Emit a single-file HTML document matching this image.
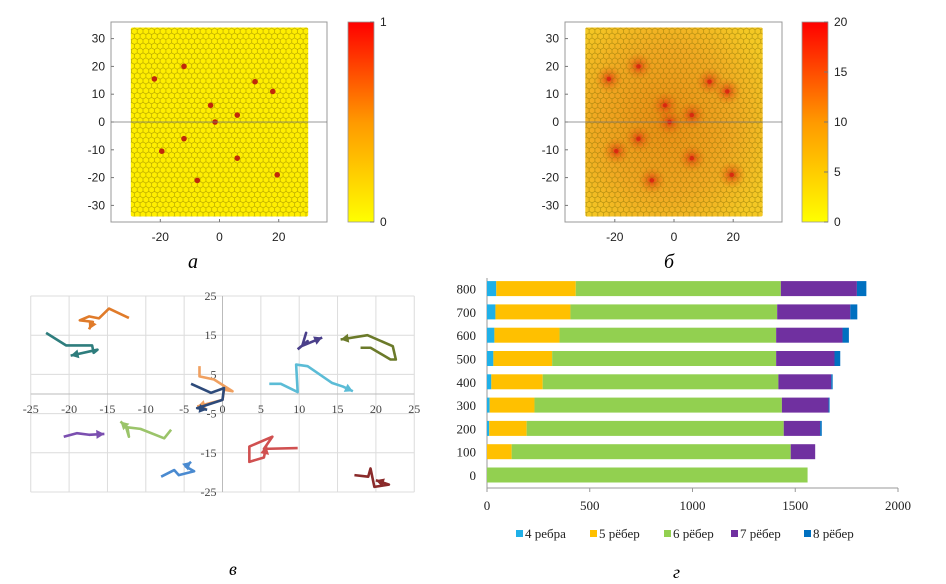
<!DOCTYPE html>
<html><head><meta charset="utf-8"><style>
body{margin:0;background:#fff;width:946px;height:584px;overflow:hidden;font-family:"Liberation Sans",sans-serif}
svg{position:absolute;left:0;top:0}
text{font-family:"Liberation Sans",sans-serif}
.ser{font-family:"Liberation Serif","DejaVu Serif",serif}
</style></head><body>
<svg id="s" width="946" height="584">
<defs>
<pattern id="hex" width="5.72" height="9.9" patternUnits="userSpaceOnUse">
<path d="M2.86,-1.65 L5.72,0 L5.72,3.3 L2.86,4.95 L0,3.3 L0,0 Z M2.86,4.95 L2.86,8.25 M0,3.3 L-2.86,4.95 M5.72,3.3 L8.58,4.95 M0,9.9 L2.86,8.25 L5.72,9.9" fill="none" stroke="#7a6a00" stroke-width="0.5" stroke-opacity="0.75"/>
</pattern>
<linearGradient id="cb1" x1="0" y1="1" x2="0" y2="0"><stop offset="0" stop-color="#ffff00"/><stop offset="0.5" stop-color="#ff9900"/><stop offset="1" stop-color="#ff0000"/></linearGradient>
<radialGradient id="bgb" cx="0.45" cy="0.5" r="0.65"><stop offset="0" stop-color="#ea8c14"/><stop offset="0.6" stop-color="#f0a822"/><stop offset="1" stop-color="#f4c824"/></radialGradient>
<radialGradient id="spot"><stop offset="0" stop-color="#e03010" stop-opacity="0.9"/><stop offset="0.5" stop-color="#e86010" stop-opacity="0.45"/><stop offset="1" stop-color="#e87a10" stop-opacity="0"/></radialGradient>
</defs>
<g id="pa"></g>
<g id="pb"></g>
<g id="pc"></g>
<g id="pd"></g>
<text class="ser" x="188" y="268" font-size="20" font-style="italic">а</text>
<text class="ser" x="664" y="268" font-size="20" font-style="italic">б</text>
<text class="ser" x="229" y="575" font-size="18" font-style="italic">в</text>
<text class="ser" x="673" y="578" font-size="18" font-style="italic">г</text>
</svg>
<script>
const NS="http://www.w3.org/2000/svg";
// ---- data ----
const seedX=[-22,-12,18,12,-3,6,-1.5,-12,-19.5,6,19.5,-7.5];
const seedY=[15.5,20,11,14.5,6,2.5,0,-6,-10.5,-13,-19,-21];
const heatTicksA=["0","1"];
const heatTicksB=["0","5","10","15","20"];
const trajX=[
[-12.2,-14.8,-16.1,-17.4,-18.6,-16.9,-17.4],
[-23,-20.4,-17,-16.8,-16.3,-19.8],
[9.8,11.1,10.4,10.9,10.4,13],
[18,19.3,21.9,22.6,22.2,18.9,15.4],
[6.1,7.6,9.8,9.6,11.1,14.3,15.7,17],
[-3,-3,-1.1,1.3,0.2,0,-3.3],
[-4.1,-1.5,0.2,0,-3.3,-2],
[-20.7,-19,-17.4,-15.4],
[-6.7,-7.6,-10.7,-12.4,-12.2,-12.6,-13.3],
[9.8,5.4,6.5,3.5,3.5,5.4,5.7],
[-8,-6.3,-5.7,-3.7,-4.8,-4.1],
[17.2,19,19.3,19.8,21.7,20]
];
const trajY=[
[19.4,21.8,19.3,19.8,18.8,18.4,16.5],
[15.6,12.4,12.4,10.5,11.3,9.8],
[11.4,13.5,12.3,15.6,12.3,14.4],
[11.8,11.8,8.8,8.8,12.2,15,13.9],
[2.6,2.6,0.5,7.5,7.1,2.8,1.9,0.7],
[7.1,4.5,3.7,0.7,1.1,-1.5,-3.2],
[2.6,0.3,1.5,-1.5,-3.6,-4],
[-10.9,-10,-10.4,-10.2],
[-9.1,-11.3,-8.9,-8.5,-10.9,-8.3,-7],
[-13.8,-14,-10.9,-13.4,-17.3,-16.2,-13.3],
[-21.1,-19.4,-20.7,-19.7,-18.5,-17.3],
[-20.7,-21.1,-19,-23.7,-23.1,-22]
];
const trajColors=["#e07b2a","#2e7d7d","#4a3f8a","#6b7a2a","#5bbcd6","#f0a060","#2d4a7a","#7b4fb0","#9bc46a","#d05050","#4a8ad0","#8a2a2a"];
const trajXTicks=[-25,-20,-15,-10,-5,0,5,10,15,20,25];
const trajYTicks=[25,15,5,-5,-15,-25];
const barCats=["0","100","200","300","400","500","600","700","800"];
const s4=[0,0,11,13,21,31,36,41,45];
const s5=[0,120,182,218,250,286,317,365,387];
const s6=[1560,1358,1251,1204,1147,1090,1054,1006,998];
const s7=[0,119,177,227,257,284,323,356,370];
const s8=[0,0,8,5,7,28,31,34,46];
const barNames=["4 ребра","5 рёбер","6 рёбер","7 рёбер","8 рёбер"];
const barColors=["#1fb0e8","#ffc000","#92d050","#7030a0","#0070c0"];
const barXTicks=[0,500,1000,1500,2000];

function el(tag,attrs,parent,txt){const e=document.createElementNS(NS,tag);for(const k in attrs)e.setAttribute(k,attrs[k]);if(txt!==undefined)e.textContent=txt;parent.appendChild(e);return e;}

// ---- heatmap panels ----
function heat(g,x0,x1,cbx,mode){
  const y0=22,y1=222;
  const cx=(x0+x1)/2+0.5;
  const sx=v=>cx+v*2.96, sy=v=>122-v*2.78;
  el("rect",{x:x0,y:y0,width:x1-x0,height:y1-y0,fill:"#fff",stroke:"#999","stroke-width":1},g);
  const fx=sx(-30),fw=sx(30)-sx(-30),fy=sy(34),fh=sy(-34)-sy(34);
  const cp="cl"+mode;
  const c=el("clipPath",{id:cp},g);el("rect",{x:fx,y:fy,width:fw,height:fh,rx:2},c);
  const f=el("g",{"clip-path":"url(#"+cp+")"},g);
  el("rect",{x:fx,y:fy,width:fw,height:fh,fill:mode==="a"?"#ffee00":"url(#bgb)"},f);
  for(let i=0;i<seedX.length;i++){
    if(mode==="b"){
      const sp=el("circle",{cx:sx(seedX[i]),cy:sy(seedY[i]),r:14,fill:"url(#spot)"},f);
      
      
    }
  }
  el("rect",{x:fx,y:fy,width:fw,height:fh,fill:"url(#hex)"},f);
  for(let i=0;i<seedX.length;i++){
    const d=el("circle",{cx:sx(seedX[i]),cy:sy(seedY[i]),r:mode==="a"?2.8:2.2,fill:mode==="a"?"#c0280a":"#d82a10"},g);
    
    
  }
  el("line",{x1:x0,x2:x1,y1:sy(0),y2:sy(0),stroke:"#777","stroke-width":0.8},g);
  [-20,0,20].forEach(v=>{el("line",{x1:sx(v),x2:sx(v),y1:y1,y2:y1-3,stroke:"#777"},g);
    const t=el("text",{x:sx(v),y:y1+19,"font-size":12,"text-anchor":"middle",fill:"#222"},g,String(v));
    });
  [30,20,10,0,-10,-20,-30].forEach(v=>{el("line",{x1:x0,x2:x0+3,y1:sy(v),y2:sy(v),stroke:"#777"},g);
    const t=el("text",{x:x0-6,y:sy(v)+4,"font-size":12,"text-anchor":"end",fill:"#222"},g,String(v));
    });
  const cb=el("rect",{x:cbx,y:y0,width:26,height:y1-y0,fill:"url(#cb1)",stroke:"#999","stroke-width":0.8},g);
  
  const ticks=mode==="a"?heatTicksA:heatTicksB;
  ticks.forEach((t,i)=>{const y=y1-(y1-y0)*i/(ticks.length-1);
    el("line",{x1:cbx+22,x2:cbx+26,y1:y,y2:y,stroke:"#777"},g);
    const tx=el("text",{x:cbx+32,y:y+4,"font-size":12,fill:"#222"},g,t);
    });
}
heat(document.getElementById("pa"),111,327,348,"a");
heat(document.getElementById("pb"),565,782,802,"b");

// ---- trajectories ----
(function(){
  const g=document.getElementById("pc");
  const X=v=>222.5+v*7.67, Y=v=>394-v*3.92;
  for(let v=-25;v<=25;v+=5){el("line",{x1:X(v),x2:X(v),y1:Y(25),y2:Y(-25),stroke:"#dcdcdc","stroke-width":1},g);}
  trajYTicks.forEach(v=>el("line",{x1:X(-25),x2:X(25),y1:Y(v),y2:Y(v),stroke:"#dcdcdc","stroke-width":1},g));
  el("line",{x1:X(-25),x2:X(25),y1:Y(0),y2:Y(0),stroke:"#bbb","stroke-width":1},g);
  el("line",{x1:X(0),x2:X(0),y1:Y(25),y2:Y(-25),stroke:"#bbb","stroke-width":1},g);
  trajXTicks.forEach(v=>{const t=el("text",{x:X(v),y:Y(0)+19,"font-size":12,"text-anchor":"middle",fill:"#444",class:"ser"},g,String(v));
    });
  trajYTicks.forEach(v=>{const t=el("text",{x:X(0)-6,y:Y(v)+4,"font-size":12,"text-anchor":"end",fill:"#444",class:"ser"},g,String(v));
    });
  trajX.forEach((xs,i)=>{
    const pts=xs.map((x,j)=>X(x)+","+Y(trajY[i][j])).join(" ");
    const p=el("polyline",{points:pts,fill:"none",stroke:trajColors[i],"stroke-width":2.6,"stroke-linejoin":"round"},g);
    
    
    const n=xs.length,ax=X(xs[n-1]),ay=Y(trajY[i][n-1]),bx=X(xs[n-2]),by=Y(trajY[i][n-2]);
    const a=Math.atan2(ay-by,ax-bx),L=8,W=4.5;
    const ah=el("polygon",{points:`${ax},${ay} ${ax-L*Math.cos(a)+W*Math.sin(a)},${ay-L*Math.sin(a)-W*Math.cos(a)} ${ax-L*Math.cos(a)-W*Math.sin(a)},${ay-L*Math.sin(a)+W*Math.cos(a)}`,fill:trajColors[i]},g);
    
    
  });
})();

// ---- stacked bar chart ----
(function(){
  const g=document.getElementById("pd");
  const X=v=>487+v*0.2055, rowY=i=>475-i*23.3;
  const series=[s4,s5,s6,s7,s8];
  barXTicks.forEach(v=>{el("line",{x1:X(v),x2:X(v),y1:488,y2:492,stroke:"#999"},g);
    const t=el("text",{x:X(v),y:510,"font-size":13,"text-anchor":"middle",fill:"#222",class:"ser"},g,String(v));
    });
  el("line",{x1:X(0),x2:X(2000),y1:488,y2:488,stroke:"#999"},g);
  el("line",{x1:X(0),x2:X(0),y1:278,y2:488,stroke:"#999"},g);
  barCats.forEach((c,i)=>{
    const t=el("text",{x:476,y:rowY(i)+5,"font-size":13,"text-anchor":"end",fill:"#222",class:"ser"},g,c);
    
    let acc=0;
    series.forEach((s,k)=>{
      if(s[i]>0){
        const r=el("rect",{x:X(acc),y:rowY(i)-7.5,width:X(acc+s[i])-X(acc),height:15,fill:barColors[k]},g);
        
        
      }
      acc+=s[i];
    });
  });
  const lx=516;
  const gaps=[0,74,148,215,288];
  barNames.forEach((n,k)=>{
    const x=lx+gaps[k];
    const sw=el("rect",{x:x,y:530,width:7,height:7,fill:barColors[k]},g);
    
    const t=el("text",{x:x+9,y:538,"font-size":13,fill:"#222",class:"ser"},g,n);
    
  });
})();
</script>
</body></html>
